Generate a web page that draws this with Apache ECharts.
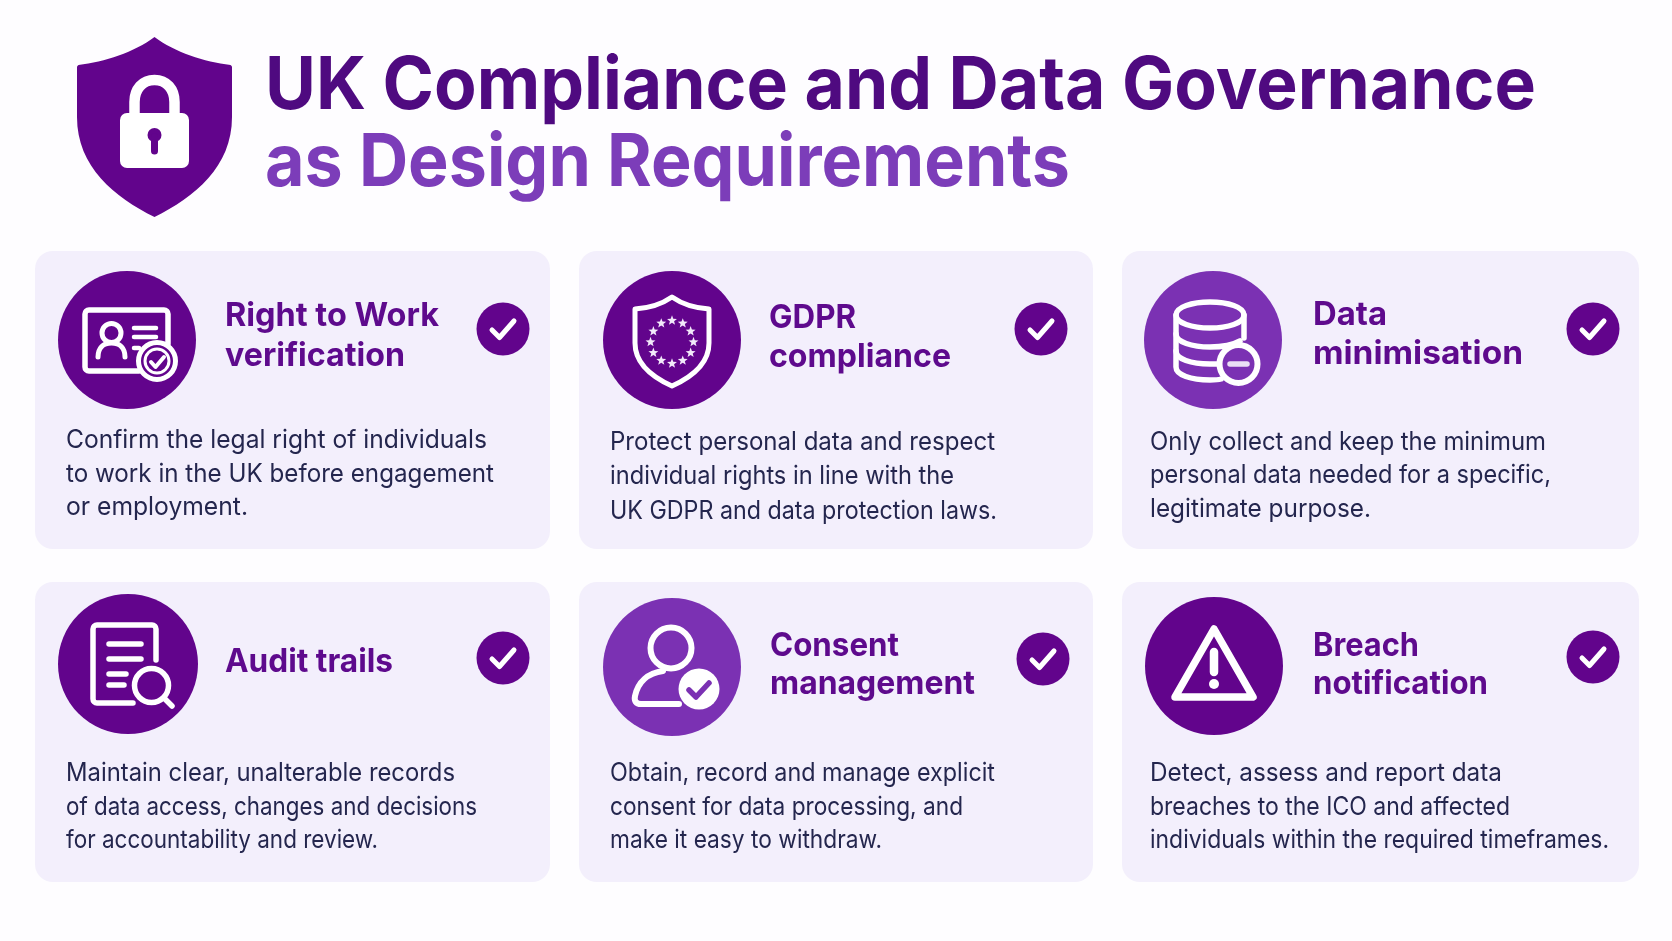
<!DOCTYPE html>
<html>
<head>
<meta charset="utf-8">
<style>html,body{margin:0;padding:0;background:#fefdff}#chart{width:1672px;height:941px}</style>
<script src="https://cdn.jsdelivr.net/npm/echarts@6/dist/echarts.min.js"></script>
</head>
<body>
<div id="chart"></div>
<script>
var headline = ['UK Compliance and Data Governance', 'as Design Requirements'];
var cardTitles = [
    ['Right to Work', 'verification'],
    ['GDPR', 'compliance'],
    ['Data', 'minimisation'],
    ['Audit trails'],
    ['Consent', 'management'],
    ['Breach', 'notification']
];
var cardBodies = [
    ['Confirm the legal right of individuals', 'to work in the UK before engagement', 'or employment.'],
    ['Protect personal data and respect', 'individual rights in line with the', 'UK GDPR and data protection laws.'],
    ['Only collect and keep the minimum', 'personal data needed for a specific,', 'legitimate purpose.'],
    ['Maintain clear, unalterable records', 'of data access, changes and decisions', 'for accountability and review.'],
    ['Obtain, record and manage explicit', 'consent for data processing, and', 'make it easy to withdraw.'],
    ['Detect, assess and report data', 'breaches to the ICO and affected', 'individuals within the required timeframes.']
];

// layout, in page pixels
var cardLeft = [35, 579, 1122, 35, 579, 1122];
var cardRight = [550, 1093, 1639, 550, 1093, 1639];
var cardTop = [251, 251, 251, 582, 582, 582];
var cardBottom = [549, 549, 549, 882, 882, 882];
var iconX = [127, 672, 1213, 128, 672, 1214];
var iconY = [340, 340, 340, 664, 667, 666];
var iconR = [69, 69, 69, 70, 69, 69];
var checkX = [503, 1041, 1593, 503, 1043, 1593];
var checkY = [329, 329, 329, 658, 659, 657];
var titleX = [225, 769, 1313, 225, 770, 1313];
var titleY = [[326, 366], [328, 367], [325, 364], [672], [656, 694], [656, 694]];
var titleW = [[214, 180], [87, 182], [74, 210], [168], [129, 205], [106, 175]];
var bodyX = [66, 610, 1150, 66, 610, 1150];
var bodyY = [[448, 482, 515], [450, 484, 519], [450, 483, 517], [781, 815, 848], [781, 815, 848], [781, 815, 848]];
var bodyW = [[421, 428, 182], [385, 344, 387], [396, 401, 221], [389, 411, 312], [385, 353, 272], [352, 360, 459]];
var headX = 265;
var headY = [109, 186];
var headW = [1271, 805];

var DARK = '#62048c';
var LIGHT = '#7b31b3';
var iconColor = [DARK, DARK, LIGHT, DARK, LIGHT, DARK];
var HEAD_SIZE = 73, TITLE_SIZE = 33, BODY_SIZE = 25.5;

var idx = cardTitles.map(function (t, i) { return i; });
var measureCtx = document.createElement('canvas').getContext('2d');

// one line of text, baseline at y, squeezed to the width it has in the picture
function fitText(line, x, baseline, width, weight, size, color) {
    var font = weight + ' ' + size + 'px Inter';
    measureCtx.font = font;
    return {
        type: 'text', x: x, y: baseline - 0.3 * size,
        scaleX: width / measureCtx.measureText(line).width,
        style: {text: line, font: font, fill: color, verticalAlign: 'middle'}
    };
}
function stroke(d, w, color) {
    return {
        type: 'path',
        shape: {pathData: d},
        style: {fill: 'none', stroke: color || '#fff', lineWidth: w, lineCap: 'round', lineJoin: 'round'}
    };
}
function dot(x, y, r, fill, line, w) {
    return {
        type: 'circle',
        shape: {cx: x, cy: y, r: r},
        style: {fill: fill, stroke: line || null, lineWidth: w || 0}
    };
}
function starPath(cx, cy, r) {
    var d = '';
    for (var i = 0; i < 10; i++) {
        var a = -Math.PI / 2 + i * Math.PI / 5;
        var rr = i % 2 ? r * 0.42 : r;
        d += (i ? 'L' : 'M') + (cx + rr * Math.cos(a)).toFixed(2) + ' ' + (cy + rr * Math.sin(a)).toFixed(2);
    }
    return d + 'Z';
}

// icon drawings, relative to the circle centre
var iconParts = [
    function (c) {
        return [
            stroke('M41 4V-26a4 4 0 0 0 -4 -4H-38a4 4 0 0 0 -4 4V27a4 4 0 0 0 4 4H12', 5.5),
            stroke('M-29 17C-29 8 -24 3 -15.5 3C-7 3 -2 8 -2 17', 5),
            dot(-15.5, -7, 9.5, c, '#fff', 5),
            stroke('M7 -12H29', 4.5), stroke('M7 -3H29', 4.5), stroke('M7 8H12', 4.5),
            dot(30, 21, 18.5, c, '#fff', 5),
            dot(30, 21, 12, c, '#fff', 3),
            stroke('M24 22L28.5 27L37 17', 4)
        ];
    },
    function (c) {
        var p = [stroke('M0 -43C10 -36 22 -32 37 -31V3C37 24 20 37 0 46C-20 37 -37 24 -37 3V-31C-22 -32 -10 -36 0 -43Z', 5)];
        for (var i = 0; i < 12; i++) {
            var a = i * Math.PI / 6;
            p.push({
                type: 'path',
                shape: {pathData: starPath(21.5 * Math.sin(a), 2 - 21.5 * Math.cos(a), 5.2)},
                style: {fill: '#f2e9fa'}
            });
        }
        return p;
    },
    function (c) {
        return [
            stroke('M-37 -25C-37 -33 -21 -38 -3 -38C15 -38 31 -33 31 -25C31 -17 15 -12 -3 -12C-21 -12 -37 -17 -37 -25Z', 5.5),
            stroke('M-37 -25V27C-37 35 -22 40 -3 40C1 40 5 40 8 39', 5.5),
            stroke('M31 -25V-2', 5.5),
            stroke('M-37 -6C-37 2 -21 7 -3 7C9 7 20 5 27 1', 5.5),
            stroke('M-37 11C-37 19 -22 24 -3 24H5', 5.5),
            dot(25.5, 24, 19, c, '#fff', 6),
            stroke('M17 24H34', 5.5, '#eadff5')
        ];
    },
    function (c) {
        return [
            stroke('M28 -4V-35a4 4 0 0 0 -4 -4H-31a4 4 0 0 0 -4 4V35a4 4 0 0 0 4 4H5', 5.5),
            stroke('M-19 -20H13', 5.5), stroke('M-19 -5H13', 5.5),
            stroke('M-19 10H-2', 5.5), stroke('M-19 21H-4', 5.5),
            dot(23.5, 21.5, 17, c, '#fff', 5.5),
            stroke('M36 34L44 42', 5.5)
        ];
    },
    function (c) {
        return [
            dot(-1, -19, 20.5, c, '#fff', 6),
            stroke('M7 37H-31C-36 37 -38 34 -37 29C-34 15 -24 6 -9 4', 6),
            dot(27, 22, 20.5, '#fff'),
            stroke('M17 23L24 30L37 16', 5.5, c)
        ];
    },
    function (c) {
        return [
            stroke('M0 -37L39 31H-39Z', 7.5),
            stroke('M0 -14V6', 8.5),
            dot(0, 18, 5, '#fff')
        ];
    }
];

function renderCard(params, api) {
    var i = api.value(0);
    var a = api.coord([cardLeft[i], cardTop[i]]);
    var b = api.coord([cardRight[i], cardBottom[i]]);
    return {
        type: 'rect',
        shape: {x: a[0], y: a[1], width: b[0] - a[0], height: b[1] - a[1], r: 18},
        style: {fill: '#f3effc'}
    };
}
function renderIcon(params, api) {
    var i = api.value(0);
    var p = api.coord([iconX[i], iconY[i]]);
    return {
        type: 'group', x: p[0], y: p[1],
        children: [dot(0, 0, iconR[i], iconColor[i])].concat(iconParts[i](iconColor[i]))
    };
}
function renderCheck(params, api) {
    var i = api.value(0);
    var p = api.coord([checkX[i], checkY[i]]);
    return {
        type: 'group', x: p[0], y: p[1],
        children: [dot(0, 0, 26.5, DARK), stroke('M-11 1L-3.5 8.5L11 -8', 5)]
    };
}
function renderText(params, api) {
    var i = api.value(0);
    var kids = [];
    cardTitles[i].forEach(function (line, k) {
        var p = api.coord([titleX[i], titleY[i][k]]);
        kids.push(fitText(line, p[0], p[1], titleW[i][k], 700, TITLE_SIZE, '#5e0a8d'));
    });
    cardBodies[i].forEach(function (line, k) {
        var p = api.coord([bodyX[i], bodyY[i][k]]);
        kids.push(fitText(line, p[0], p[1], bodyW[i][k], 400, BODY_SIZE, '#24264e'));
    });
    return {type: 'group', children: kids};
}
function renderHead(params, api) {
    var a = api.coord([154.5, 127]);
    var l1 = api.coord([headX, headY[0]]);
    var l2 = api.coord([headX, headY[1]]);
    return {
        type: 'group',
        children: [
            {
                type: 'group', x: a[0], y: a[1],
                children: [
                    {type: 'path', shape: {pathData: 'M0 -90C20 -75 50 -65 76 -62Q77.5 -61 77.5 -60V-10C77.5 40 40 70 0 90C-40 70 -77.5 40 -77.5 -10V-60Q-77.5 -61 -76 -62C-50 -65 -20 -75 0 -90Z'},
                        style: {fill: DARK}},
                    stroke('M-20 -12V-25C-20 -38 -12 -47 0 -47C12 -47 20 -38 20 -25V-12', 10.5),
                    {type: 'rect', shape: {x: -34.5, y: -14, width: 69, height: 55, r: 7}, style: {fill: '#fff'}},
                    dot(0, 8, 7, DARK),
                    stroke('M0 10V24', 7, DARK)
                ]
            },
            fitText(headline[0], l1[0], l1[1], headW[0], 700, HEAD_SIZE, '#4f0a80'),
            fitText(headline[1], l2[0], l2[1], headW[1], 700, HEAD_SIZE, '#7c3db9')
        ]
    };
}

function layer(render, z, rows) {
    return {
        type: 'custom',
        coordinateSystem: 'cartesian2d',
        renderItem: render,
        data: rows.map(function (i) { return [i]; }),
        encode: {x: -1, y: -1},
        silent: true,
        clip: false,
        z: z
    };
}

var myChart = echarts.init(document.getElementById('chart'), null, {renderer: 'canvas'});
myChart.setOption({
    backgroundColor: '#fefdff',
    animation: false,
    grid: {left: 0, right: 0, top: 0, bottom: 0},
    xAxis: {type: 'value', min: 0, max: 1672, show: false},
    yAxis: {type: 'value', min: 0, max: 941, inverse: true, show: false},
    series: [
        layer(renderCard, 1, idx),
        layer(renderIcon, 2, idx),
        layer(renderCheck, 3, idx),
        layer(renderText, 4, idx),
        layer(renderHead, 4, [0])
    ]
});
</script>
</body>
</html>
